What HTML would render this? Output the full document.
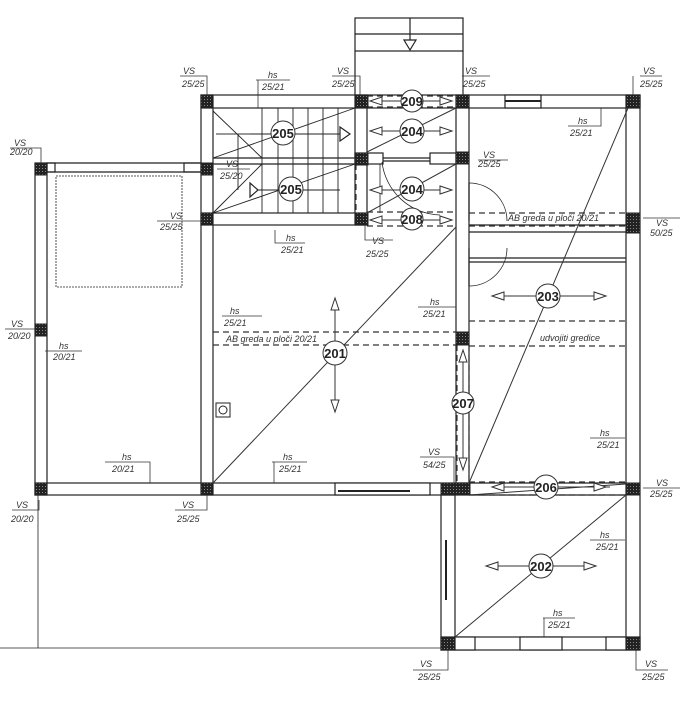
<!DOCTYPE html>
<html><head><meta charset="utf-8"><style>
html,body{margin:0;padding:0;background:#fff;}
svg{display:block;}
text{font-family:"Liberation Sans",sans-serif;font-style:italic;fill:#333;}
.lb{font-size:9px;}
.c{font-style:normal;font-weight:bold;font-size:13px;fill:#222;}
</style></head><body>
<svg width="689" height="719" viewBox="0 0 689 719" xmlns="http://www.w3.org/2000/svg">
<defs>
<pattern id="h" width="3" height="3" patternUnits="userSpaceOnUse"><rect width="3" height="3" fill="#222"/><rect width="1" height="1" fill="#888"/></pattern>
<g id="tri"><path d="M0,-4 L10,0 L0,4 Z" fill="#fff" stroke="#333" stroke-width="1"/></g>
</defs>
<g stroke="#222" fill="none" stroke-width="1.2">
<!-- top stub -->
<rect x="355" y="18" width="108" height="33"/>
<line x1="355" y1="34" x2="463" y2="34"/>
<line x1="410" y1="18" x2="410" y2="42"/>
<path d="M404,40 L416,40 L410,50 Z" fill="#fff"/>
<line x1="355" y1="51" x2="355" y2="95"/><line x1="463" y1="51" x2="463" y2="95"/>

<!-- left balcony -->
<rect x="35" y="163" width="12" height="332"/>
<line x1="47" y1="163" x2="201" y2="163"/><line x1="47" y1="172" x2="201" y2="172"/>
<rect x="47" y="163" width="8" height="9"/><rect x="184" y="163" width="17" height="9"/>
<rect x="56" y="176" width="126" height="111" stroke-dasharray="2,1" stroke-width="0.8"/>

<!-- column 2 -->
<rect x="201" y="95" width="12" height="400"/>
<rect x="213" y="108" width="-0" height="0"/>
<!-- top wall -->
<rect x="201" y="95" width="439" height="13"/>
<rect x="505" y="95" width="36" height="13" fill="#fff"/>
<line x1="505" y1="101" x2="541" y2="101" stroke-width="2"/>
<!-- stair bottom wall -->
<rect x="201" y="213" width="166" height="12"/>
<!-- column 3 -->
<rect x="355" y="95" width="12" height="130"/>
<rect x="355" y="153" width="28" height="11"/><rect x="430" y="153" width="26" height="11"/>
<line x1="383" y1="158" x2="430" y2="158"/><line x1="383" y1="161" x2="430" y2="161"/>
<!-- stairs -->
<line x1="213" y1="158" x2="355" y2="158"/><line x1="213" y1="164" x2="355" y2="164"/>
<g stroke-width="0.9">
<line x1="262" y1="108" x2="262" y2="213"/><line x1="278" y1="108" x2="278" y2="213"/><line x1="293" y1="108" x2="293" y2="213"/><line x1="308" y1="108" x2="308" y2="213"/><line x1="323" y1="108" x2="323" y2="213"/><line x1="338" y1="108" x2="338" y2="213"/>
<line x1="213" y1="111" x2="262" y2="158"/><line x1="213" y1="213" x2="262" y2="164"/>
<line x1="213" y1="158" x2="355" y2="108"/><line x1="213" y1="213" x2="355" y2="164"/>
<line x1="238" y1="134" x2="340" y2="134"/><line x1="238" y1="134" x2="238" y2="190"/><line x1="250" y1="190" x2="340" y2="190"/>
</g>
<path d="M340,127 L350,134 L340,141 Z" fill="#fff"/>
<path d="M250,183 L258,190 L250,197 Z" fill="#fff"/>
<!-- column 4 -->
<rect x="456" y="95" width="13" height="388"/>
<line x1="469" y1="225" x2="626" y2="225"/><line x1="469" y1="232" x2="626" y2="232"/>
<line x1="469" y1="258" x2="626" y2="258"/><line x1="469" y1="262" x2="626" y2="262"/>
<path d="M469,183 A38,38 0 0 1 507,221" stroke-width="0.8"/><line x1="469" y1="183" x2="469" y2="221"/>
<path d="M469,286 A38,38 0 0 0 507,248" stroke-width="0.8"/><line x1="469" y1="248" x2="469" y2="286"/>
<line x1="380" y1="164" x2="380" y2="213" stroke-width="0.8"/>
<path d="M382,162 A60,60 0 0 0 440,215" stroke-width="0.8"/>
<!-- column 5 -->
<rect x="626" y="95" width="14" height="555"/>
<!-- bottom wall -->
<rect x="35" y="483" width="434" height="12"/>
<rect x="335" y="483" width="95" height="12" fill="#fff"/>
<line x1="338" y1="491" x2="410" y2="491" stroke-width="2"/>
<line x1="469" y1="483" x2="626" y2="483"/><line x1="469" y1="495" x2="626" y2="495"/>
<!-- bottom room -->
<rect x="441" y="495" width="14" height="155"/>
<line x1="446" y1="540" x2="446" y2="600" stroke-width="2"/>
<rect x="441" y="637" width="199" height="13"/>
<rect x="455" y="637" width="20" height="13" fill="#fff"/><rect x="520" y="637" width="42" height="13" fill="#fff"/><rect x="606" y="637" width="20" height="13" fill="#fff"/>
<!-- outside lines -->
<line x1="0" y1="648" x2="441" y2="648" stroke-width="0.8"/>
<line x1="38" y1="495" x2="38" y2="648" stroke-width="0.8"/>
</g>

<!-- dashed beams -->
<g stroke="#333" stroke-width="1.2" stroke-dasharray="6,4" fill="none">
<line x1="367" y1="96" x2="456" y2="96"/><line x1="367" y1="107" x2="456" y2="107"/>
<line x1="367" y1="212" x2="456" y2="212"/><line x1="367" y1="226" x2="456" y2="226"/>
<line x1="469" y1="213" x2="626" y2="213"/><line x1="469" y1="226" x2="626" y2="226"/>
<line x1="213" y1="332" x2="456" y2="332"/><line x1="213" y1="345" x2="456" y2="345"/>
<line x1="469" y1="321" x2="626" y2="321"/><line x1="469" y1="346" x2="626" y2="346"/>
<line x1="457" y1="345" x2="457" y2="483"/><line x1="469" y1="345" x2="469" y2="483"/>
<line x1="469" y1="482" x2="626" y2="482"/><line x1="469" y1="495" x2="626" y2="495"/>
<line x1="356" y1="164" x2="356" y2="213"/>
</g>

<!-- pillars -->
<g fill="url(#h)" stroke="#222">
<rect x="35" y="163" width="12" height="12"/><rect x="35" y="324" width="12" height="12"/><rect x="35" y="483" width="12" height="12"/>
<rect x="201" y="95" width="12" height="13"/><rect x="201" y="163" width="12" height="12"/><rect x="201" y="213" width="12" height="12"/><rect x="201" y="483" width="12" height="12"/>
<rect x="355" y="95" width="13" height="13"/><rect x="355" y="153" width="13" height="12"/><rect x="355" y="213" width="13" height="12"/>
<rect x="456" y="95" width="13" height="13"/><rect x="456" y="152" width="13" height="12"/><rect x="456" y="332" width="13" height="13"/>
<rect x="441" y="483" width="29" height="12"/><rect x="441" y="637" width="14" height="13"/>
<rect x="626" y="95" width="14" height="13"/><rect x="626" y="213" width="14" height="20"/><rect x="626" y="483" width="14" height="12"/><rect x="626" y="637" width="14" height="13"/>
</g>

<!-- diagonals -->
<g stroke="#333" stroke-width="1" fill="none">
<line x1="213" y1="483" x2="456" y2="227"/>
<line x1="469" y1="483" x2="628" y2="108"/>
<line x1="455" y1="637" x2="626" y2="495"/>
<line x1="367" y1="152" x2="456" y2="108"/>
<line x1="367" y1="213" x2="456" y2="164"/>
<line x1="469" y1="495" x2="626" y2="484"/>
<!-- arrows lines -->
<line x1="335" y1="305" x2="335" y2="405"/>
<line x1="500" y1="296" x2="598" y2="296"/>
<line x1="495" y1="566" x2="587" y2="566"/>
<line x1="375" y1="131" x2="450" y2="131"/><line x1="375" y1="190" x2="450" y2="190"/>
<line x1="375" y1="101" x2="450" y2="101"/><line x1="375" y1="220" x2="450" y2="220"/>
<line x1="463" y1="350" x2="463" y2="470"/>
<line x1="495" y1="487" x2="610" y2="487"/>
<line x1="216" y1="134" x2="250" y2="134"/>
</g>
<g fill="#fff" stroke="#333" stroke-width="1">
<path d="M335,298 L331,310 L339,310 Z"/><path d="M335,412 L331,400 L339,400 Z"/>
<path d="M492,296 L504,292 L504,300 Z"/><path d="M606,296 L594,292 L594,300 Z"/>
<path d="M486,566 L498,562 L498,570 Z"/><path d="M596,566 L584,562 L584,570 Z"/>
<path d="M370,131 L382,127 L382,135 Z"/><path d="M452,131 L440,127 L440,135 Z"/>
<path d="M370,190 L382,186 L382,194 Z"/><path d="M452,190 L440,186 L440,194 Z"/>
<path d="M370,101 L382,97 L382,105 Z"/><path d="M452,101 L440,97 L440,105 Z"/>
<path d="M370,220 L382,216 L382,224 Z"/><path d="M452,220 L440,216 L440,224 Z"/>
<path d="M463,350 L459,362 L467,362 Z"/><path d="M463,470 L459,458 L467,458 Z"/>
<path d="M492,487 L504,483 L504,491 Z"/><path d="M606,487 L594,483 L594,491 Z"/>
<rect x="216" y="403" width="14" height="14" stroke="#222"/>
</g>
<circle cx="223" cy="410" r="4" fill="none" stroke="#222"/>

<!-- circles -->
<g fill="#fff" stroke="#333" stroke-width="1">
<circle cx="283" cy="133" r="12"/><circle cx="291" cy="189" r="12"/>
<circle cx="412" cy="131" r="12"/><circle cx="412" cy="189" r="12"/>
<circle cx="412" cy="101" r="11"/><circle cx="412" cy="219" r="11"/>
<circle cx="548" cy="296" r="12"/><circle cx="335" cy="353" r="12"/>
<circle cx="463" cy="403" r="11"/><circle cx="546" cy="487" r="12"/><circle cx="541" cy="566" r="12"/>
</g>
<g class="c" text-anchor="middle">
<text class="c" x="283" y="138">205</text><text class="c" x="291" y="194">205</text>
<text class="c" x="412" y="136">204</text><text class="c" x="412" y="194">204</text>
<text class="c" x="412" y="106">209</text><text class="c" x="412" y="224">208</text>
<text class="c" x="548" y="301">203</text><text class="c" x="335" y="358">201</text>
<text class="c" x="463" y="408">207</text><text class="c" x="546" y="492">206</text><text class="c" x="541" y="571">202</text>
</g>

<!-- label leaders -->
<g stroke="#333" stroke-width="0.8" fill="none">
<path d="M180,76 H207 V95"/><path d="M256,80 H290"/><line x1="258" y1="80" x2="258" y2="108"/>
<path d="M332,76 H360 V95"/><path d="M462,76 H490"/><line x1="463" y1="76" x2="463" y2="95"/>
<path d="M640,76 H662"/><line x1="633" y1="76" x2="633" y2="95"/>
<path d="M10,148 H41 V163"/><path d="M157,221 H201"/>
<path d="M217,169 H250"/><path d="M275,230 V243 H305"/>
<path d="M365,225 V240 H393"/><path d="M478,160 H508"/>
<path d="M568,126 H601 V108"/><path d="M643,218 H680"/>
<path d="M5,329 H35"/><path d="M45,351 H82"/>
<path d="M222,316 H262"/><path d="M418,307 H456"/>
<path d="M420,457 H454 V483"/><path d="M590,438 H625"/>
<path d="M105,462 H150 V483"/><path d="M272,462 H307"/><line x1="274" y1="462" x2="274" y2="483"/>
<path d="M12,510 H39 V500"/><path d="M175,510 H207 V495"/>
<path d="M590,540 H625"/><path d="M543,618 H575"/><line x1="544" y1="618" x2="544" y2="637"/>
<path d="M413,670 H448 V650"/><path d="M636,650 V670 H668"/>
<path d="M643,488 H680"/>
</g>
<g class="lb">
<text x="183" y="74">VS</text><text x="182" y="87">25/25</text>
<text x="268" y="78">hs</text><text x="262" y="90">25/21</text>
<text x="337" y="74">VS</text><text x="332" y="87">25/25</text>
<text x="465" y="74">VS</text><text x="463" y="87">25/25</text>
<text x="643" y="74">VS</text><text x="640" y="87">25/25</text>
<text x="14" y="146">VS</text><text x="10" y="155">20/20</text>
<text x="226" y="167">VS</text><text x="220" y="179">25/20</text>
<text x="170" y="219">VS</text><text x="160" y="230">25/25</text>
<text x="286" y="241">hs</text><text x="281" y="253">25/21</text>
<text x="372" y="244">VS</text><text x="366" y="257">25/25</text>
<text x="483" y="158">VS</text><text x="478" y="167">25/25</text>
<text x="578" y="124">hs</text><text x="570" y="136">25/21</text>
<text x="656" y="226">VS</text><text x="650" y="236">50/25</text>
<text x="508" y="221">AB greda u ploči 20/21</text>
<text x="226" y="342">AB greda u ploči 20/21</text>
<text x="540" y="341">udvojiti gredice</text>
<text x="11" y="327">VS</text><text x="8" y="339">20/20</text>
<text x="59" y="349">hs</text><text x="53" y="360">20/21</text>
<text x="230" y="314">hs</text><text x="224" y="326">25/21</text>
<text x="430" y="305">hs</text><text x="423" y="317">25/21</text>
<text x="428" y="455">VS</text><text x="423" y="468">54/25</text>
<text x="600" y="436">hs</text><text x="597" y="448">25/21</text>
<text x="122" y="460">hs</text><text x="112" y="472">20/21</text>
<text x="283" y="460">hs</text><text x="279" y="472">25/21</text>
<text x="16" y="508">VS</text><text x="11" y="522">20/20</text>
<text x="182" y="508">VS</text><text x="177" y="522">25/25</text>
<text x="656" y="486">VS</text><text x="650" y="497">25/25</text>
<text x="600" y="538">hs</text><text x="596" y="550">25/21</text>
<text x="553" y="616">hs</text><text x="548" y="628">25/21</text>
<text x="420" y="667">VS</text><text x="418" y="680">25/25</text>
<text x="645" y="667">VS</text><text x="642" y="680">25/25</text>
</g>
</svg>
</body></html>
